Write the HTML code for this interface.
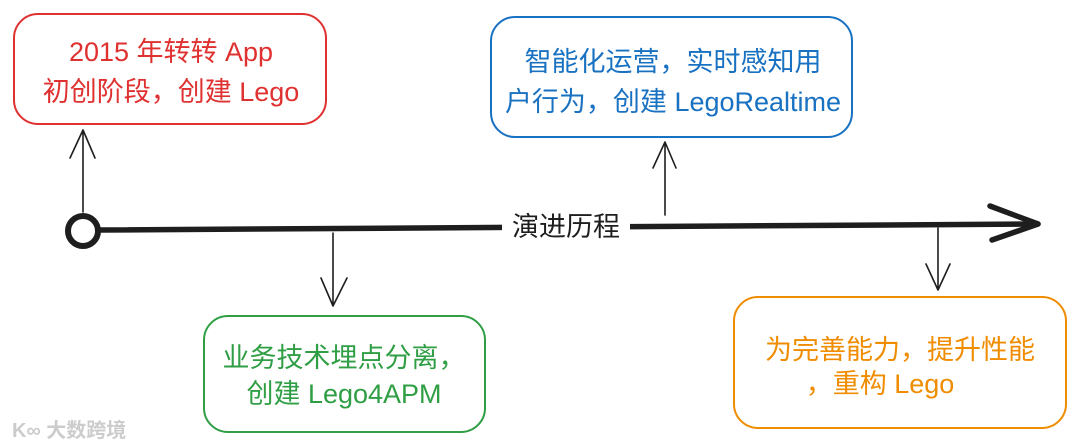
<!DOCTYPE html>
<html><head><meta charset="utf-8"><style>
html,body{margin:0;padding:0;background:#fff;width:1080px;height:448px;overflow:hidden}
text{font-family:"Liberation Sans","Noto Sans CJK SC",sans-serif}
</style></head><body>
<svg width="1080" height="448" viewBox="0 0 1080 448" xmlns="http://www.w3.org/2000/svg">
<g fill="none" stroke-linecap="round" stroke-linejoin="round">
<rect x="14" y="14" width="312" height="110" rx="24" stroke="#e03131" stroke-width="2"/>
<rect x="491" y="17" width="361" height="120" rx="24" stroke="#1971c2" stroke-width="2"/>
<rect x="204" y="316" width="281" height="116" rx="24" stroke="#2f9e44" stroke-width="2"/>
<rect x="734" y="297" width="332" height="131" rx="24" stroke="#f08c00" stroke-width="2"/>
<circle cx="83" cy="231" r="15" stroke="#1e1e1e" stroke-width="6"/>
<path d="M100 230 L1038 224" stroke="#1e1e1e" stroke-width="5.5"/>
<path d="M990 206 L1038 224 L992 240" stroke="#1e1e1e" stroke-width="5.5"/>
<path d="M83 212 L83 130 M70 158 L83 130 L95 158" stroke="#1e1e1e" stroke-width="1.6"/>
<path d="M665 215 L665 142 M653 168 L665 142 L676 168" stroke="#1e1e1e" stroke-width="1.6"/>
<path d="M333 233 L333 306 M321 278 L333 306 L347 278" stroke="#1e1e1e" stroke-width="1.6"/>
<path d="M938 228 L938 290 M926 264 L938 290 L950 264" stroke="#1e1e1e" stroke-width="1.6"/>
</g>
<rect x="502" y="208" width="128" height="34" fill="#fff"/>
<text x="566" y="236" font-size="27" text-anchor="middle" fill="#1e1e1e">演进历程</text>
<g font-size="27" text-anchor="middle">
<text x="171" y="61" fill="#e03131">2015 年转转 App</text>
<text x="171" y="101" fill="#e03131">初创阶段，创建 Lego</text>
<text x="673" y="71" fill="#1971c2">智能化运营，实时感知用</text>
<text x="673" y="111" fill="#1971c2">户行为，创建 LegoRealtime</text>
<text x="344" y="367" fill="#2f9e44">业务技术埋点分离，</text>
<text x="344" y="403" fill="#2f9e44">创建 Lego4APM</text>
<text x="900" y="359" fill="#f08c00">为完善能力，提升性能</text>
<text x="880" y="393" fill="#f08c00">，重构 Lego</text>
</g>
<text x="12" y="437" font-size="20" fill="#ccc" font-weight="bold">K∞ 大数跨境</text>
</svg>
</body></html>
